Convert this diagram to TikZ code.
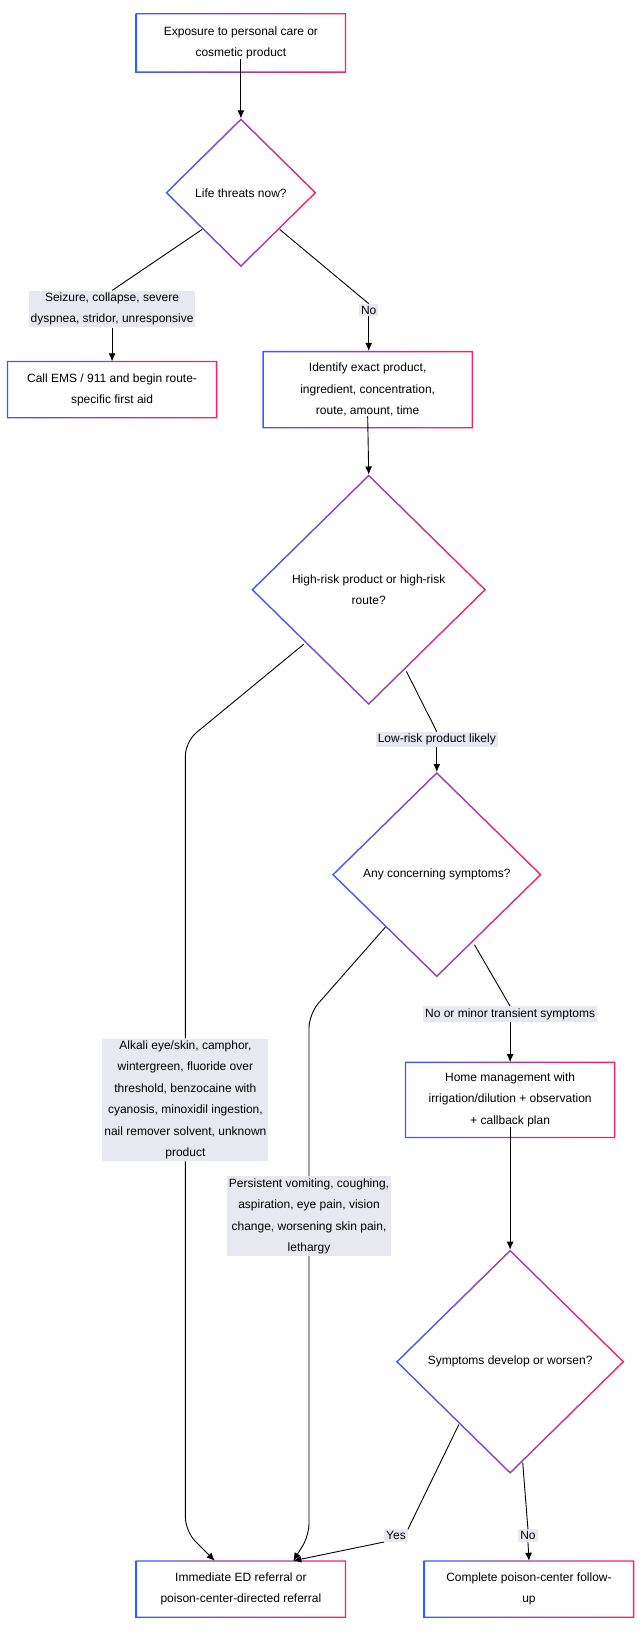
\documentclass[tikz,border=0pt]{standalone}
\usepackage{fontspec}
\setmainfont{Liberation Sans}
\usetikzlibrary{shapes.geometric,arrows.meta,calc}
\definecolor{gb}{HTML}{3B5BFF}
\definecolor{gp}{HTML}{FF1F66}
\definecolor{lab}{HTML}{E8E8F0}
\tikzset{
 txt/.style={align=center,font=\fontsize{12}{21.5}\selectfont,inner sep=0pt},
 box/.style={txt,minimum width=210pt},
 dia/.style={txt,diamond,inner sep=0pt},
 lbl/.style={txt,fill=lab,inner sep=2pt},
 ln/.style={line width=0.9pt,black},
 ar/.style={ln,-{Latex[length=8pt,width=7pt]}}
}
\newcommand{\gbox}[2]{% name, height
 \shade[left color=gb,right color=gp,even odd rule]
  ($(#1.center)+(-100.5,-#2/2)$) rectangle ($(#1.center)+(100.5,#2/2)$)
  ($(#1.center)+(-99.2,-#2/2+1.3)$) rectangle ($(#1.center)+(99.2,#2/2-1.3)$);}
\newcommand{\gdia}[3]{% name, hw, hh
 \shade[left color=gb,right color=gp,even odd rule]
  ($(#1.center)+(0,-#3)$)--($(#1.center)+(#2,0)$)--($(#1.center)+(0,#3)$)--($(#1.center)+(-#2,0)$)--cycle
  ($(#1.center)+(0,-#3+1.9)$)--($(#1.center)+(#2-1.9,0)$)--($(#1.center)+(0,#3-1.9)$)--($(#1.center)+(-#2+1.9,0)$)--cycle;}
\begin{document}
\begin{tikzpicture}[x=1.0475pt,y=-1.0475pt]
\useasboundingbox[fill=white] (0,0) rectangle (611,1566.6);
\node[box] (n1) at (230,41) {Exposure to personal care or\\cosmetic product};
\node[dia] (d1) at (230,184) {Life threats now?};
\node[box] (n2) at (107,372) {Call EMS / 911 and begin route-\\specific first aid};
\node[box] (n3) at (351,372) {Identify exact product,\\ingredient, concentration,\\route, amount, time};
\node[dia] (d2) at (352,563) {High-risk product or high-risk\\route?};
\node[dia] (d3) at (417,835) {Any concerning symptoms?};
\node[box] (n4) at (487,1050) {Home management with\\irrigation/dilution + observation\\+ callback plan};
\node[dia] (d4) at (487,1300) {Symptoms develop or worsen?};
\node[box] (n5) at (230,1517) {Immediate ED referral or\\poison-center-directed referral};
\node[box] (n6) at (505,1517) {Complete poison-center follow-\\up};
\gbox{n1}{57}\gbox{n2}{55}\gbox{n3}{74}\gbox{n4}{73}\gbox{n5}{55}\gbox{n6}{55}
\gdia{d1}{72}{71}\gdia{d2}{112}{110}\gdia{d3}{100}{98}\gdia{d4}{109}{107}
\node[lbl] (l1) at (107,295) {Seizure, collapse, severe\\dyspnea, stridor, unresponsive};
\node[lbl] (l2) at (352,296) {No};
\node[lbl] (l3) at (417,706) {Low-risk product likely};
\node[lbl] (l4) at (487,968) {No or minor transient symptoms};
\node[lbl] (l5) at (177,1050) {Alkali eye/skin, camphor,\\wintergreen, fluoride over\\threshold, benzocaine with\\cyanosis, minoxidil ingestion,\\nail remover solvent, unknown\\product};
\node[lbl] (l6) at (295,1161) {Persistent vomiting, coughing,\\aspiration, eye pain, vision\\change, worsening skin pain,\\lethargy};
\node[lbl] (l7) at (378,1466) {Yes};
\node[lbl] (l8) at (504,1466) {No};
\coordinate (c1) at (193,219);
\coordinate (c2) at (267,219);
\coordinate (c3) at (290,615);
\coordinate (c4) at (388,641);
\coordinate (c5) at (368,885);
\coordinate (c6) at (453,902);
\coordinate (c7) at (438,1360);
\coordinate (c8) at (499,1396);
\coordinate (e1) at (205,1490);
\coordinate (e2) at (280,1490);
\coordinate (t2) at (352,453);
\draw[ar] (n1.south) -- (230,113);
\draw[ln] (c1) -- (l1.north);
\draw[ar] (l1.south) -- (107,345);
\draw[ln] (c2) -- (l2.north);
\draw[ar] (l2.south) -- (352,335);
\draw[ar] (n3.south) -- (t2);
\draw[ln,rounded corners=14] (c3) -- (177,708) -- (l5.north);
\draw[ar,rounded corners=14] (l5.south) -- (177,1462) -- (e1);
\draw[ln] (c4) -- (l3.north);
\draw[ar] (l3.south) -- (417,737);
\draw[ln,rounded corners=14] (c5) -- (295,968) -- (l6.north);
\draw[ar,rounded corners=12] (l6.south) -- (295,1466) -- (e2);
\draw[ln] (c6) -- (l4.north);
\draw[ar] (l4.south) -- (487,1014);
\draw[ar] (n4.south) -- (487,1193);
\draw[ln] (c7) -- (l7.north east);
\draw[ar] (l7.south west) -- (e2);
\draw[ln] (c8) -- (l8.north);
\draw[ar] (l8.south) -- (505,1490);
\end{tikzpicture}
\end{document}
